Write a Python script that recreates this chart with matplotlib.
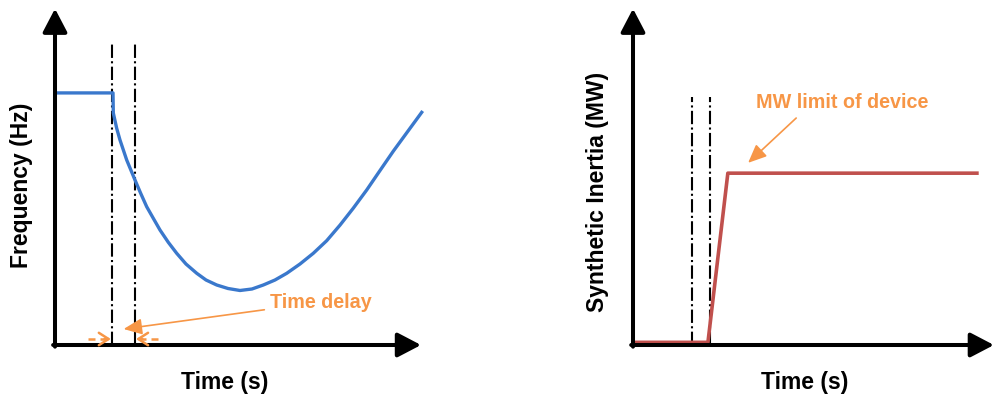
import matplotlib
matplotlib.use("Agg")
import matplotlib.pyplot as plt

plt.rcParams['font.family'] = ['Liberation Sans', 'DejaVu Sans']

# ---- data (arbitrary units: both panels span 0..10 on each axis) ----
# left panel: frequency response after a disturbance
freq_time = [0.05, 1.547, 1.555, 1.645, 1.733, 1.912, 2.133, 2.285, 2.445, 2.621,
             2.800, 3.021, 3.245, 3.493, 3.779, 4.027, 4.312, 4.613, 4.933,
             5.253, 5.555, 5.867, 6.179, 6.533, 6.888, 7.245, 7.600, 7.955,
             8.312, 8.667, 9.021, 9.421, 9.805]
freq_value = [7.57, 7.57, 6.967, 6.507, 6.156, 5.556, 4.955, 4.555, 4.153, 3.805,
              3.453, 3.084, 2.754, 2.432, 2.154, 1.952, 1.802, 1.697, 1.637,
              1.682, 1.802, 1.952, 2.153, 2.432, 2.754, 3.132, 3.600, 4.110,
              4.655, 5.240, 5.820, 6.436, 7.027]
left_delay_lines = [1.52, 2.13]
left_delay_top = 9.1

# right panel: synthetic inertia power output
inertia_time = [0.05, 2.07, 2.62, 9.50]
inertia_value = [0.08, 0.08, 5.16, 5.16]
right_delay_lines = [1.63, 2.13]
right_delay_top = 7.45

ORANGE = '#F79646'
BLUE = '#3A78CC'
RED = '#C0504D'

W, H = 995, 401
fig = plt.figure(figsize=(W / 100, H / 100), dpi=100)


def make_axes(left_px, right_px, bottom_px, top_px):
    ax = fig.add_axes([left_px / W, 1 - bottom_px / H,
                       (right_px - left_px) / W, (bottom_px - top_px) / H])
    ax.set_xlim(0, 10)
    ax.set_ylim(0, 10)
    ax.axis('off')
    return ax


def draw_axis_arrows(ax, x_tip, y_tip):
    arrow = dict(arrowstyle='-|>,head_length=0.65,head_width=0.34', lw=2.9,
                 color='black', mutation_scale=22, shrinkA=0, shrinkB=0)
    ax.annotate('', xy=(0, y_tip), xytext=(0, -0.005), xycoords='axes fraction',
                arrowprops=arrow, annotation_clip=False)
    ax.annotate('', xy=(x_tip, 0), xytext=(-0.005, 0), xycoords='axes fraction',
                arrowprops=arrow, annotation_clip=False)


def delay_marker(ax, x_to, x_from, y):
    # dashed shaft, then a solid open arrow head
    sign = 1 if x_to > x_from else -1
    ax.plot([x_from, x_to - sign * 0.2], [y, y], color=ORANGE, lw=1.8,
            ls=(0, (2.8, 2)), solid_capstyle='butt')
    ax.annotate('', xy=(x_to - sign * 0.03, y), xytext=(x_to - sign * 0.2, y),
                arrowprops=dict(arrowstyle='->,head_length=0.5,head_width=0.32',
                                color=ORANGE, lw=1.8, shrinkA=0, shrinkB=0,
                                mutation_scale=14))


# ---------------- left panel ----------------
ax1 = make_axes(55, 430, 345, 12)
ax1.plot(freq_time, freq_value, color=BLUE, lw=2.4, solid_joinstyle='round',
         solid_capstyle='butt', zorder=3)
for x in left_delay_lines:
    ax1.plot([x, x], [0, left_delay_top], color='black', lw=1.5, ls='-.', zorder=2)
draw_axis_arrows(ax1, 0.976, 1.01)

delay_marker(ax1, left_delay_lines[0], left_delay_lines[0] - 0.65, 0.18)
delay_marker(ax1, left_delay_lines[1], left_delay_lines[1] + 0.62, 0.18)
ax1.annotate('Time delay', xy=(1.83, 0.48), xytext=(5.73, 1.29),
             color=ORANGE, fontsize=14.2, fontweight='bold', ha='left', va='center',
             arrowprops=dict(arrowstyle='-|>,head_length=0.8,head_width=0.35',
                             color=ORANGE, lw=1.2, mutation_scale=14,
                             shrinkA=2, shrinkB=0))
ax1.text(-0.88, 4.8, 'Frequency (Hz)', rotation=90, ha='center', va='center',
         fontsize=16.5, fontweight='bold')
ax1.text(4.53, -1.14, 'Time (s)', ha='center', va='center', fontsize=16.5,
         fontweight='bold')

# ---------------- right panel ----------------
ax2 = make_axes(633, 995, 345, 12)
ax2.plot(inertia_time, inertia_value, color=RED, lw=2.6, zorder=3)
for x in right_delay_lines:
    ax2.plot([x, x], [0, right_delay_top], color='black', lw=1.5, ls='-.', zorder=2)
draw_axis_arrows(ax2, 0.997, 1.01)

ax2.annotate('MW limit of device', xy=(3.18, 5.47), xytext=(5.77, 7.27),
             color=ORANGE, fontsize=14.2, fontweight='bold', ha='center', va='center',
             arrowprops=dict(arrowstyle='-|>,head_length=0.8,head_width=0.35',
                             color=ORANGE, lw=1.2, mutation_scale=14,
                             shrinkA=3, shrinkB=0, relpos=(0.27, 0)))
ax2.text(-0.99, 4.6, 'Synthetic Inertia (MW)', rotation=90, ha='center', va='center',
         fontsize=16.5, fontweight='bold')
ax2.text(4.75, -1.14, 'Time (s)', ha='center', va='center', fontsize=16.5,
         fontweight='bold')

fig.savefig('out.png', dpi=100)
